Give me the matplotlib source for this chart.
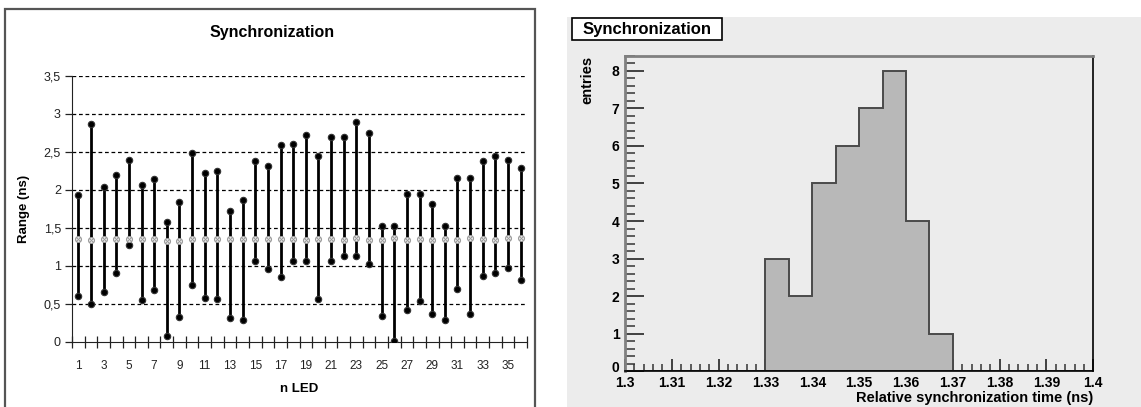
import numpy as np
import matplotlib
matplotlib.use("Agg")
import matplotlib.pyplot as plt
from matplotlib.patches import Rectangle
from matplotlib.ticker import FixedLocator, NullFormatter, FixedFormatter, MultipleLocator, FuncFormatter

plt.rcParams['font.family'] = ['Liberation Sans', 'DejaVu Sans']

# Per-LED timing range (ns): lower end, upper end and relative synchronization time
led = np.arange(1, 37)
range_low = [0.60, 0.50, 0.65, 0.90, 1.28, 0.55, 0.68, 0.08, 0.32, 0.75, 0.58, 0.56,
             0.31, 0.29, 1.06, 0.96, 0.85, 1.06, 1.06, 0.56, 1.06, 1.13, 1.13, 1.02,
             0.34, 0.01, 0.42, 0.54, 0.37, 0.29, 0.69, 0.36, 0.86, 0.91, 0.97, 0.81]
range_high = [1.93, 2.87, 2.04, 2.19, 2.40, 2.07, 2.14, 1.58, 1.84, 2.48, 2.22, 2.25,
              1.72, 1.86, 2.38, 2.31, 2.59, 2.60, 2.72, 2.45, 2.69, 2.69, 2.89, 2.75,
              1.53, 1.53, 1.95, 1.95, 1.81, 1.52, 2.16, 2.15, 2.38, 2.44, 2.39, 2.29]
sync_time = [1.347, 1.343, 1.357, 1.347, 1.357, 1.348, 1.358, 1.332, 1.333, 1.358, 1.349, 1.349,
             1.351, 1.359, 1.356, 1.359, 1.352, 1.352, 1.344, 1.353, 1.353, 1.346, 1.362, 1.343,
             1.334, 1.361, 1.337, 1.354, 1.338, 1.354, 1.341, 1.363, 1.356, 1.342, 1.364, 1.366]

y_ticks = [0, 0.5, 1, 1.5, 2, 2.5, 3, 3.5]
y_ticklabels = ["0", "0,5", "1", "1,5", "2", "2,5", "3", "3,5"]
x_labelled = list(range(1, 36, 2))

hist_edges = np.linspace(1.3, 1.4, 21)
hist_ticklabels = ['1.3', '1.31', '1.32', '1.33', '1.34', '1.35', '1.36', '1.37', '1.38', '1.39', '1.4']

W, H = 1141, 407
fig = plt.figure(figsize=(W / 100, H / 100), dpi=100)
fig.patch.set_facecolor('white')

def fx(px):
    return px / W

def fy(py):
    return 1 - py / H

# ---------------- left panel: range per LED ----------------
fig.patches.append(Rectangle((fx(5), fy(420)), fx(535) - fx(5), fy(9) - fy(420),
                             transform=fig.transFigure, fill=False,
                             edgecolor='#555555', linewidth=1.6, clip_on=False, zorder=-1))

axL = fig.add_axes([fx(72), fy(341.7), fx(527) - fx(72), fy(76) - fy(341.7)])
axL.set_zorder(1)
axL.set_facecolor('none')
axL.set_xlim(0.5, 36.5)
axL.set_ylim(0, 3.5)

for y in y_ticks[1:]:
    axL.axhline(y, color='black', linewidth=0.9, dashes=(3, 2.2), zorder=1)

axL.vlines(led, range_low, range_high, colors='black', linewidth=2.0, zorder=3)
axL.plot(led, range_high, 'o', ms=4.6, mfc='black', mec='#333333', mew=0.8, zorder=4, linestyle='none')
axL.plot(led, range_low, 'o', ms=4.6, mfc='black', mec='#333333', mew=0.8, zorder=4, linestyle='none')
axL.plot(led, sync_time, 'o', ms=4.2, mfc='white', mec='#9a9a9a', mew=0.9, zorder=5, linestyle='none')
axL.plot(led, sync_time, 'x', ms=2.6, mec='#9a9a9a', mew=0.7, zorder=6, linestyle='none')

for s in ['top', 'right']:
    axL.spines[s].set_visible(False)
axL.spines['left'].set_color('#222222')
axL.spines['bottom'].set_color('#222222')

axL.yaxis.set_major_locator(FixedLocator(y_ticks))
axL.yaxis.set_major_formatter(FixedFormatter(y_ticklabels))
axL.tick_params(axis='y', direction='out', length=5, width=0.9, labelsize=9, pad=3, colors='#222222')

axL.xaxis.set_major_locator(FixedLocator(np.arange(0.5, 37, 1)))
axL.xaxis.set_major_formatter(NullFormatter())
axL.xaxis.set_minor_locator(FixedLocator(x_labelled))
axL.xaxis.set_minor_formatter(FixedFormatter([str(v) for v in x_labelled]))
axL.tick_params(axis='x', which='major', direction='inout', length=9, width=0.9, colors='#222222')
axL.tick_params(axis='x', which='minor', length=0, labelsize=8.5, pad=13, colors='#222222')

axL.set_ylabel('Range (ns)', fontsize=9.5, fontweight='bold', labelpad=10)
axL.set_xlabel('n LED', fontsize=9.5, fontweight='bold', labelpad=8)
fig.text(fx(272), fy(32), 'Synchronization', ha='center', va='center',
         fontsize=11.5, fontweight='bold')

# ---------------- right panel: histogram ----------------
pad_color = '#ececec'
fig.patches.append(Rectangle((fx(567), 0), 1 - fx(567), fy(17), transform=fig.transFigure,
                             facecolor=pad_color, edgecolor='none', zorder=-1))

axR = fig.add_axes([fx(625), fy(371.3), fx(1093.3) - fx(625), fy(55.7) - fy(371.3)])
axR.set_zorder(1)
axR.set_facecolor('none')
axR.hist(sync_time, bins=hist_edges, histtype='stepfilled', facecolor='#b8b8b8',
         edgecolor='#4a4a4a', linewidth=1.4, zorder=2)
axR.set_xlim(1.3, 1.4)
axR.set_ylim(0, 8.4)

axR.spines['top'].set_color('#808080')
axR.spines['left'].set_color('#808080')
axR.spines['top'].set_linewidth(2)
axR.spines['left'].set_linewidth(2)
axR.spines['right'].set_color('black')
axR.spines['right'].set_linewidth(1.2)
axR.spines['bottom'].set_color('black')
axR.spines['bottom'].set_linewidth(1.2)

axR.xaxis.set_major_locator(FixedLocator(np.linspace(1.3, 1.4, 11)))
axR.xaxis.set_major_formatter(FixedFormatter(hist_ticklabels))
axR.xaxis.set_minor_locator(MultipleLocator(0.002))
axR.yaxis.set_major_locator(MultipleLocator(1))
axR.yaxis.set_minor_locator(MultipleLocator(0.2))
# the zero label sits in the corner and is placed separately
axR.yaxis.set_major_formatter(FuncFormatter(lambda v, p: '' if abs(v) < 1e-9 else f'{v:.0f}'))
axR.tick_params(axis='both', which='both', direction='in', top=False, right=False)
axR.tick_params(axis='x', which='major', length=9, width=1.3, labelsize=10, pad=3.5,
                colors='#333333', labelcolor='black')
axR.tick_params(axis='x', which='minor', length=5, width=1.1, colors='#333333')
axR.tick_params(axis='y', which='major', length=14, width=1.3, labelsize=10, pad=4,
                colors='#333333', labelcolor='black')
axR.tick_params(axis='y', which='minor', length=7, width=1.1, colors='#333333')
for lab in axR.get_xticklabels() + axR.get_yticklabels():
    lab.set_fontweight('bold')
axR.annotate('0', xy=(0, 0), xycoords=('axes fraction', 'data'), xytext=(-4, 2.5),
             textcoords='offset points', ha='right', va='center',
             fontsize=10, fontweight='bold')

fig.text(fx(1093), fy(398), 'Relative synchronization time (ns)', ha='right', va='center',
         fontsize=10.5, fontweight='bold')
fig.text(fx(587), fy(56), 'entries', ha='center', va='top', rotation=90,
         fontsize=10.5, fontweight='bold')

# title box
fig.patches.append(Rectangle((fx(572), fy(40)), fx(722) - fx(572), fy(18.3) - fy(40),
                             transform=fig.transFigure, facecolor='white',
                             edgecolor='black', linewidth=1.2, zorder=3))
fig.text(fx(647), fy(29.5), 'Synchronization', ha='center', va='center',
         fontsize=12, fontweight='bold', zorder=4)

fig.savefig('out.png', dpi=100)
